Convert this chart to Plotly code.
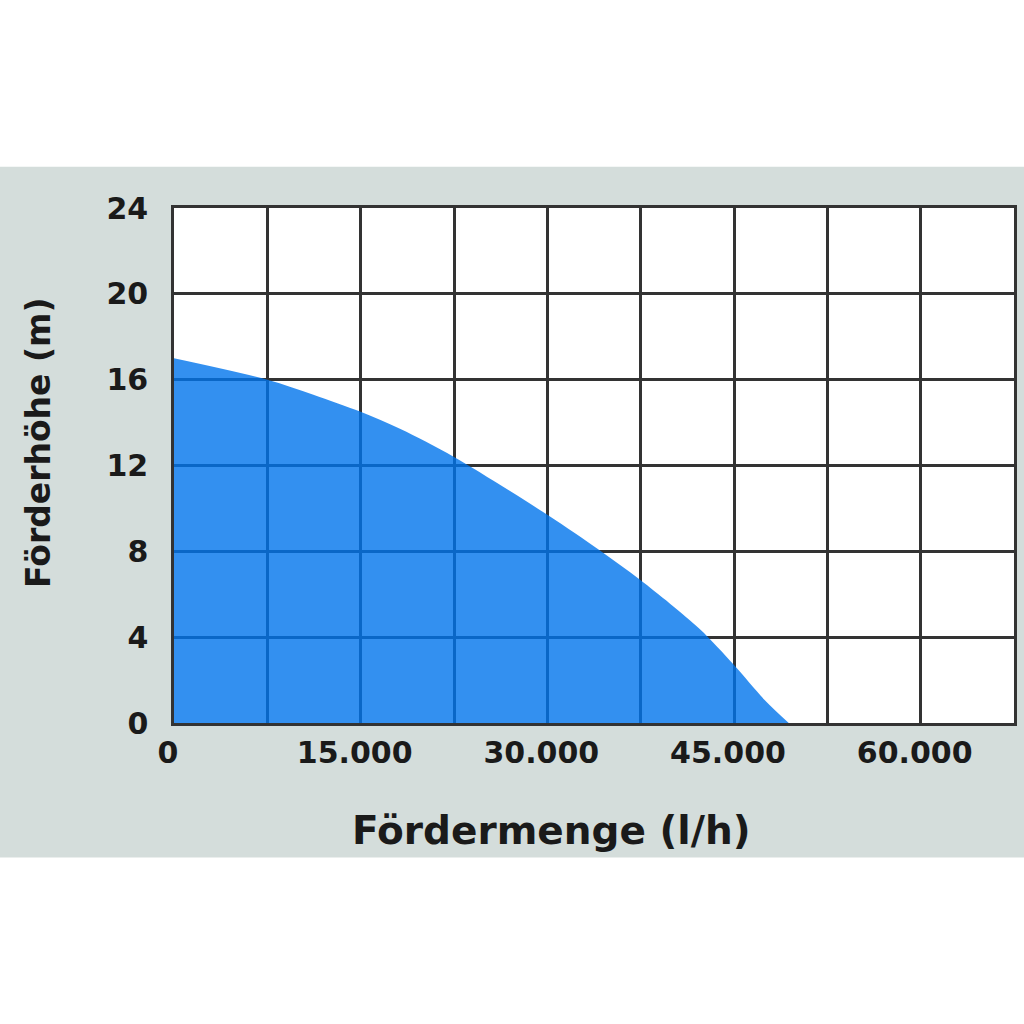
import plotly.graph_objects as go

# Pumpenkennlinie: Fördermenge (l/h) vs. Förderhöhe (m)
flow = [0, 7500, 11200, 15000, 18200, 22500, 30000, 34200, 37500, 42200, 45000, 47500, 49400]
head = [17.0, 16.0, 15.3, 14.5, 13.7, 12.4, 9.7, 8.05, 6.65, 4.4, 2.7, 1.05, 0.0]

x_ticks = [0, 15000, 30000, 45000, 60000]
x_labels = ['0', '15.000', '30.000', '45.000', '60.000']
y_ticks = [0, 4, 8, 12, 16, 20, 24]

FONT = 'DejaVu Sans'
BAND = '#d4dddb'
TEXT = '#1a1a1a'

fig = go.Figure()

fig.add_trace(go.Scatter(
    x=flow,
    y=head,
    mode='lines',
    line=dict(width=0, shape='spline', smoothing=0.9),
    fill='tozeroy',
    fillcolor='rgba(0, 116, 236, 0.8)',
    hoverinfo='skip',
    showlegend=False,
))

fig.update_xaxes(
    range=[0, 67500],
    tickmode='array',
    tickvals=x_ticks,
    ticktext=x_labels,
    showgrid=True,
    gridcolor='#333333',
    gridwidth=2.5,
    minor=dict(dtick=7500, tick0=0, showgrid=True, gridcolor='#333333', gridwidth=2.5),
    showline=True,
    mirror=True,
    linecolor='#333333',
    linewidth=2.5,
    zeroline=False,
    ticks='outside',
    ticklen=1,
    tickcolor='rgba(0,0,0,0)',
    ticklabelshift=-6,
    tickfont=dict(family=FONT, size=30, color=TEXT, weight='bold'),
    fixedrange=True,
)

fig.update_yaxes(
    range=[0, 24],
    tickvals=y_ticks,
    showgrid=True,
    gridcolor='#333333',
    gridwidth=2.5,
    showline=True,
    mirror=True,
    linecolor='#333333',
    linewidth=2.5,
    zeroline=False,
    ticks='outside',
    ticklen=17,
    tickcolor='rgba(0,0,0,0)',
    tickfont=dict(family=FONT, size=30, color=TEXT, weight='bold'),
    fixedrange=True,
)

# white strips above and below the grey band (paper background is the band colour)
fig.add_shape(
    type='rect', xref='paper', yref='paper',
    x0=-0.5, x1=1.5, y0=1.08, y1=1.6,
    fillcolor='white', line=dict(width=0), layer='below',
)
fig.add_shape(
    type='rect', xref='paper', yref='paper',
    x0=-0.5, x1=1.5, y0=-0.261, y1=-0.8,
    fillcolor='white', line=dict(width=0), layer='below',
)

fig.add_annotation(
    text='Fördermenge (l/h)', xref='paper', yref='paper',
    x=0.449, y=-0.208, xanchor='center', yanchor='middle', showarrow=False,
    font=dict(family=FONT, size=39, color=TEXT, weight='bold'),
)
fig.add_annotation(
    text='Förderhöhe (m)', xref='paper', yref='paper',
    x=-0.162, y=0.5455, xanchor='center', yanchor='middle',
    textangle=-90, showarrow=False,
    font=dict(family=FONT, size=33, color=TEXT, weight='bold'),
)

fig.update_layout(
    width=1024,
    height=1024,
    margin=dict(l=174, r=7, t=208, b=301),
    paper_bgcolor=BAND,
    plot_bgcolor='white',
    showlegend=False,
)

# drop the default page margin so the figure sits at the window corner
fig.write_html(
    "out.html",
    config={'displayModeBar': False},
    post_script="document.body.style.margin='0';",
)
